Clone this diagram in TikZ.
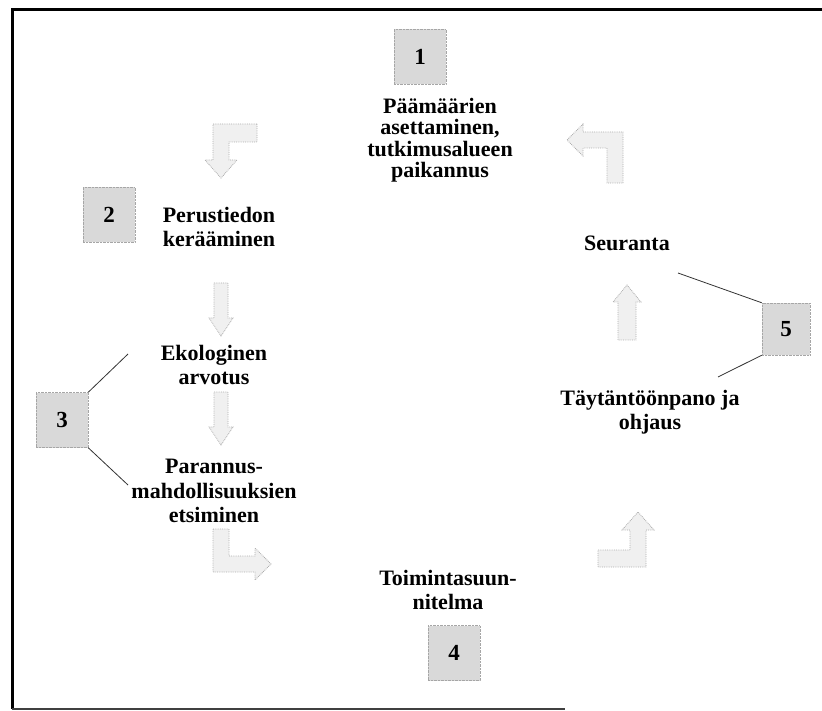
\documentclass[tikz,border=0pt]{standalone}
\usepackage{fontspec}
\setmainfont{Liberation Serif}
\begin{document}
\begin{tikzpicture}[x=1pt,y=-1pt,
  label/.style={font=\bfseries\fontsize{22}{24.5}\selectfont, align=center, inner sep=0pt},
  numbox/.style={draw=gray!70, densely dotted, fill=gray!30, minimum width=52pt, minimum height=55pt,
    inner sep=0pt, font=\bfseries\fontsize{23}{24}\selectfont, text=black},
  blockarrow/.style={draw=gray!65, densely dotted, line width=0.8pt, fill=gray!12},
  pointer/.style={draw=black!80, line width=0.8pt}]
\useasboundingbox (0,0) rectangle (822,711);
% frame
\draw[line width=3pt] (822,10) -- (12,10) -- (12,709);
\draw[line width=1.5pt, black!75] (12,709) -- (565,709);

% stage texts
\node[label, font=\bfseries\fontsize{22}{21.5}\selectfont] (goal) at (440,140) {Päämäärien\\asettaminen,\\tutkimusalueen\\paikannus};
\node[label] (basic) at (219,227) {Perustiedon\\kerääminen};
\node[label] (eco) at (214,365) {Ekologinen\\arvotus};
\node[label] (improve) at (214,491) {Parannus-\\mahdollisuuksien\\etsiminen};
\node[label] (plan) at (448,590) {Toimintasuun-\\nitelma};
\node[label] (impl) at (650,412) {Täytäntöönpano ja\\ohjaus};
\node[label] (follow) at (627,243) {Seuranta};

% numbered boxes
\node[numbox] (n1) at (420,57) {1};
\node[numbox] (n2) at (109,215) {2};
\node[numbox] (n3) at (62,420) {3};
\node[numbox] (n4) at (454,653) {4};
\node[numbox, minimum width=48pt, minimum height=52pt] (n5) at (786,329) {5};

% block arrows between the stages
\path[blockarrow] (257,124) -- (213,124) -- (213,160) -- (205,160) -- (221,178)
  -- (237,160) -- (229,160) -- (229,142) -- (257,142) -- cycle;
\path[blockarrow] (623,183) -- (623,132) -- (583,132) -- (583,124) -- (567,140)
  -- (583,156) -- (583,148) -- (607,148) -- (607,183) -- cycle;
\path[blockarrow] (214,283) -- (228,283) -- (228,318) -- (233,318) -- (221,336)
  -- (209,318) -- (214,318) -- cycle;
\path[blockarrow] (214,392) -- (228,392) -- (228,427) -- (233,427) -- (221,445)
  -- (209,427) -- (214,427) -- cycle;
\path[blockarrow] (213,529) -- (229,529) -- (229,556) -- (255,556) -- (255,548)
  -- (271,564) -- (255,580) -- (255,572) -- (213,572) -- cycle;
\path[blockarrow] (598,550) -- (630,550) -- (630,530) -- (622,530) -- (638,512)
  -- (654,530) -- (646,530) -- (646,567) -- (598,567) -- cycle;
\path[blockarrow] (618,340) -- (618,302) -- (613,302) -- (627,285) -- (641,302)
  -- (636,302) -- (636,340) -- cycle;

% pointer lines from boxes 3 and 5
\coordinate (p3a) at (128,354);
\coordinate (p3b) at (128,485);
\coordinate (p5a) at (678,273);
\coordinate (p5b) at (718,377);
\draw[pointer] (n3.north east) -- (p3a);
\draw[pointer] (n3.south east) -- (p3b);
\draw[pointer] (n5.north west) -- (p5a);
\draw[pointer] (n5.south west) -- (p5b);
\end{tikzpicture}
\end{document}
